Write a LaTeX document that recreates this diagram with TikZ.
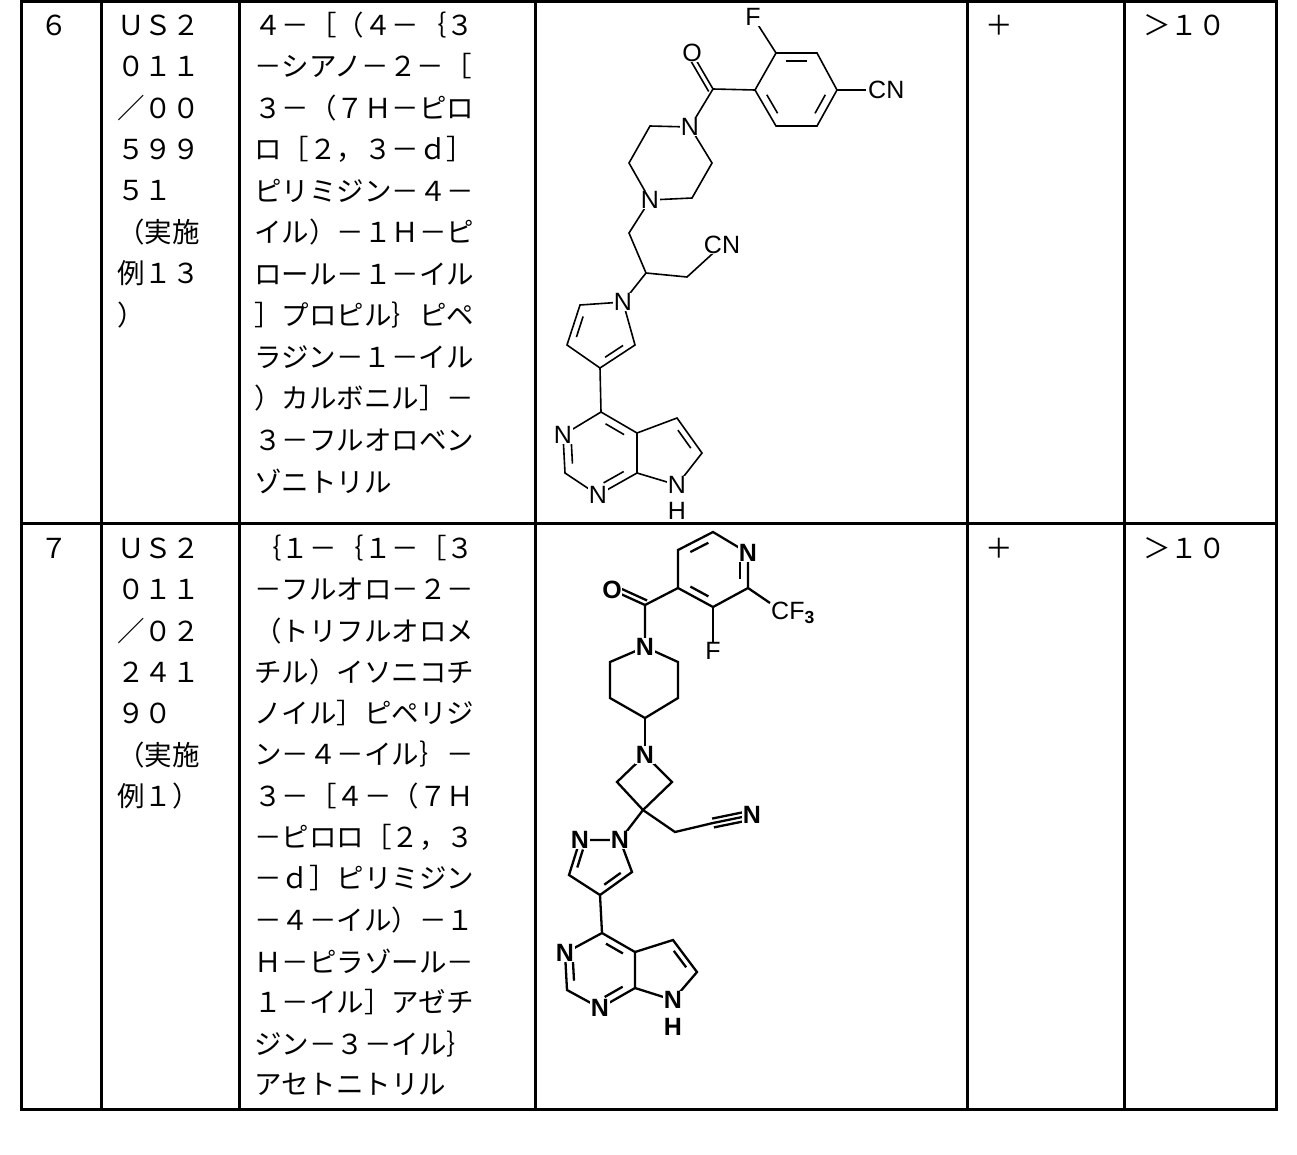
\documentclass[tikz,border=0pt]{standalone}
\usepackage{fontspec}
\newfontfamily\jp{Noto Sans CJK JP}
\newfontfamily\chem{Liberation Sans}
\usetikzlibrary{calc}
\tikzset{
  tbl/.style={line width=3pt},
  jtxt/.style={anchor=west,inner sep=0pt,font=\jp\fontsize{27.5}{27.5}\selectfont},
  bnd/.style={line width=1.6pt},
  bndb/.style={line width=2.3pt},
  atm/.style={fill=white,inner sep=0.5pt,font=\chem\fontsize{25}{25}\selectfont},
  atmb/.style={fill=white,inner sep=0.5pt,font=\chem\bfseries\fontsize{25}{25}\selectfont},
}
\newcommand{\innerb}[4][bnd]{\draw[#1] ($($(#2)!0.17!(#3)$)!0.22!(#4)$) -- ($($(#3)!0.17!(#2)$)!0.22!(#4)$);}
\begin{document}
\begin{tikzpicture}[x=1pt,y=-1pt]
\useasboundingbox (0,0) rectangle (1297,1154);
% table
\draw[tbl] (21,1) rectangle (1276,1109);
\draw[tbl] (21,523) -- (1276,523);
\foreach \x in {101,239,535,967,1124} \draw[tbl] (\x,1) -- (\x,1109);
% row 1 text
\node[jtxt] (n6) at (40,25) {６};
\node[jtxt] (p1) at (985,25) {＋};
\node[jtxt] (g1) at (1143,25) {＞１０};
\foreach \t [count=\i from 0] in {ＵＳ２,０１１,／００,５９９,５１,（実施,例１３,）}
  \node[jtxt] (a\i) at (117,25+41.4*\i) {\t};
\foreach \t [count=\i from 0] in {４－［（４－｛３,－シアノ－２－［,３－（７Ｈ－ピロ,ロ［２，３－ｄ］,ピリミジン－４－,イル）－１Ｈ－ピ,ロール－１－イル,］プロピル｝ピペ,ラジン－１－イル,）カルボニル］－,３－フルオロベン,ゾニトリル}
  \node[jtxt] (b\i) at (254,25+41.5*\i) {\t};
% row 2 text
\node[jtxt] (n7) at (40,548) {７};
\node[jtxt] (p2) at (985,548) {＋};
\node[jtxt] (g2) at (1143,548) {＞１０};
\foreach \t [count=\i from 0] in {ＵＳ２,０１１,／０２,２４１,９０,（実施,例１）}
  \node[jtxt] (c\i) at (117,548+41.4*\i) {\t};
\foreach \t [count=\i from 0] in {｛１－｛１－［３,－フルオロ－２－,（トリフルオロメ,チル）イソニコチ,ノイル］ピペリジ,ン－４－イル｝－,３－［４－（７Ｈ,－ピロロ［２，３,－ｄ］ピリミジン,－４－イル）－１,Ｈ－ピラゾール－,１－イル］アゼチ,ジン－３－イル｝,アセトニトリル}
  \node[jtxt] (d\i) at (254,548+41.3*\i) {\t};

% ===== structure 1 =====
\coordinate (F) at (753,17); \coordinate (O) at (692,53);
\coordinate (r1) at (776,53); \coordinate (r2) at (817,53); \coordinate (r3) at (837,90);
\coordinate (r4) at (817,126); \coordinate (r5) at (776,126); \coordinate (r6) at (755,90);
\coordinate (rc) at (796,90);
\coordinate (CNa) at (866,90);
\coordinate (Cc) at (713,89); \coordinate (Na) at (690,127);
\coordinate (p1) at (712,163); \coordinate (p2) at (692,198); \coordinate (Nb) at (650,200);
\coordinate (p3) at (629,163); \coordinate (p4) at (650,126);
\coordinate (m1) at (629,233); \coordinate (m2) at (646,273); \coordinate (m3) at (687,277);
\coordinate (CNb) at (722,245);
\coordinate (Np) at (623,302); \coordinate (y1) at (635,345); \coordinate (y2) at (600,368);
\coordinate (y3) at (567,345); \coordinate (y4) at (580,305); \coordinate (yc) at (602,333);
\coordinate (q4) at (601,412); \coordinate (qN3) at (563,435); \coordinate (q2) at (565,473);
\coordinate (qN1) at (598,495); \coordinate (q7a) at (637,473); \coordinate (q4a) at (637,433);
\coordinate (q5) at (677,418); \coordinate (q6) at (702,453); \coordinate (qN7) at (677,485);
\coordinate (qc6) at (600,453); \coordinate (qc5) at (666,452);
\draw[bnd] (r1)--(r2)--(r3)--(r4)--(r5)--(r6)--cycle;
\innerb{r1}{r2}{rc} \innerb{r3}{r4}{rc} \innerb{r5}{r6}{rc}
\draw[bnd] (r1)--(F); \draw[bnd] (r3)--(CNa);
\draw[bnd] (r6)--(Cc)--(Na); \draw[bnd] (Cc)--(O);
\draw[bnd] ($(Cc)!5pt!90:(O)$) -- ($(O)!5pt!-90:(Cc)$);
\draw[bnd] (Na)--(p1)--(p2)--(Nb)--(p3)--(p4)--(Na);
\draw[bnd] (Nb)--(m1)--(m2)--(m3)--(CNb);
\draw[bnd] (m2)--(Np);
\draw[bnd] (Np)--(y1)--(y2)--(y3)--(y4)--(Np);
\innerb{y1}{y2}{yc} \innerb{y3}{y4}{yc}
\draw[bnd] (y2)--(q4);
\draw[bnd] (q4)--(qN3)--(q2)--(qN1)--(q7a)--(q4a)--(q4);
\draw[bnd] (q4a)--(q5)--(q6)--(qN7)--(q7a);
\innerb{q4}{q4a}{qc6} \innerb{qN3}{q2}{qc6} \innerb{qN1}{q7a}{qc6} \innerb{q5}{q6}{qc5}
\node[atm] (lF) at (F) {F}; \node[atm] (lO) at (O) {O};
\node[atm,anchor=west,inner sep=2pt] (lCN1) at (CNa) {CN};
\node[atm] (lNa) at (Na) {N}; \node[atm] (lNb) at (Nb) {N};
\node[atm] (lCN2) at (CNb) {CN}; \node[atm] (lNp) at (Np) {N};
\node[atm] (lN3) at (qN3) {N}; \node[atm] (lN1) at (qN1) {N};
\node[atm] (lN7) at (qN7) {N}; \node[atm,fill=none] (lH) at (677,511) {H};

% ===== structure 2 =====
\coordinate (s5) at (678,550); \coordinate (s6) at (713,532); \coordinate (sN) at (748,553);
\coordinate (s2) at (748,588); \coordinate (s3) at (713,607); \coordinate (s4) at (678,588);
\coordinate (sc) at (713,570);
\coordinate (sCF) at (793,613); \coordinate (sF) at (713,651);
\coordinate (sC) at (645,605); \coordinate (sO) at (612,590);
\coordinate (tN) at (645,647); \coordinate (t1) at (678,662); \coordinate (t2) at (678,698);
\coordinate (t3) at (645,718); \coordinate (t4) at (610,698); \coordinate (t5) at (610,662);
\coordinate (zN) at (645,755); \coordinate (z1) at (672,782); \coordinate (z3) at (643,810);
\coordinate (z2) at (617,782);
\coordinate (zm) at (675,832); \coordinate (zt) at (713,823); \coordinate (zNN) at (752,815);
\coordinate (k1) at (620,840); \coordinate (k2) at (580,840); \coordinate (k3) at (569,875);
\coordinate (k4) at (600,895); \coordinate (k5) at (632,872); \coordinate (kc) at (600,862);
\coordinate (w4) at (602,933); \coordinate (wN3) at (565,953); \coordinate (w2) at (567,990);
\coordinate (wN1) at (600,1008); \coordinate (w7a) at (635,988); \coordinate (w4a) at (635,952);
\coordinate (w5) at (673,940); \coordinate (w6) at (697,972); \coordinate (wN7) at (673,1000);
\coordinate (wc6) at (600,970); \coordinate (wc5) at (662,970);
\draw[bndb] (s5)--(s6)--(sN)--(s2)--(s3)--(s4)--cycle;
\innerb[bndb]{s5}{s6}{sc} \innerb[bndb]{sN}{s2}{sc} \innerb[bndb]{s3}{s4}{sc}
\draw[bndb] (s2)--(770,603); \draw[bndb] (s3)--(sF);
\draw[bndb] (s4)--(sC)--(tN); \draw[bndb] (sC)--(sO);
\draw[bndb] ($(sC)!5pt!-90:(sO)$) -- ($(sO)!5pt!90:(sC)$);
\draw[bndb] (tN)--(t1)--(t2)--(t3)--(t4)--(t5)--(tN);
\draw[bndb] (t3)--(zN);
\draw[bndb] (zN)--(z1)--(z3)--(z2)--(zN);
\draw[bndb] (z3)--(zm)--(zt)--(zNN);
\draw[bndb] ($(zt)!4.5pt!90:(zNN)$) -- ($(zNN)!4.5pt!-90:(zt)$);
\draw[bndb] ($(zt)!4.5pt!-90:(zNN)$) -- ($(zNN)!4.5pt!90:(zt)$);
\draw[bndb] (z3)--(k1);
\draw[bndb] (k1)--(k2)--(k3)--(k4)--(k5)--(k1);
\innerb[bndb]{k2}{k3}{kc} \innerb[bndb]{k4}{k5}{kc}
\draw[bndb] (k4)--(w4);
\draw[bndb] (w4)--(wN3)--(w2)--(wN1)--(w7a)--(w4a)--(w4);
\draw[bndb] (w4a)--(w5)--(w6)--(wN7)--(w7a);
\innerb[bndb]{w4}{w4a}{wc6} \innerb[bndb]{wN3}{w2}{wc6} \innerb[bndb]{wN1}{w7a}{wc6} \innerb[bndb]{w5}{w6}{wc5}
\node[atmb] (mN) at (sN) {N};
\node[atmb,font=\chem\fontsize{25}{25}\selectfont] (mCF) at (sCF) {CF\textsubscript{\bfseries 3}};
\node[atmb,font=\chem\fontsize{25}{25}\selectfont] (mF) at (sF) {F};
\node[atmb] (mO) at (sO) {O};
\node[atmb] (mtN) at (tN) {N}; \node[atmb] (mzN) at (zN) {N};
\node[atmb] (mzNN) at (zNN) {N}; \node[atmb] (mk1) at (k1) {N}; \node[atmb] (mk2) at (k2) {N};
\node[atmb] (mwN3) at (wN3) {N}; \node[atmb] (mwN1) at (wN1) {N};
\node[atmb] (mwN7) at (wN7) {N}; \node[atmb,fill=none] (mH) at (673,1027) {H};
\end{tikzpicture}
\end{document}
